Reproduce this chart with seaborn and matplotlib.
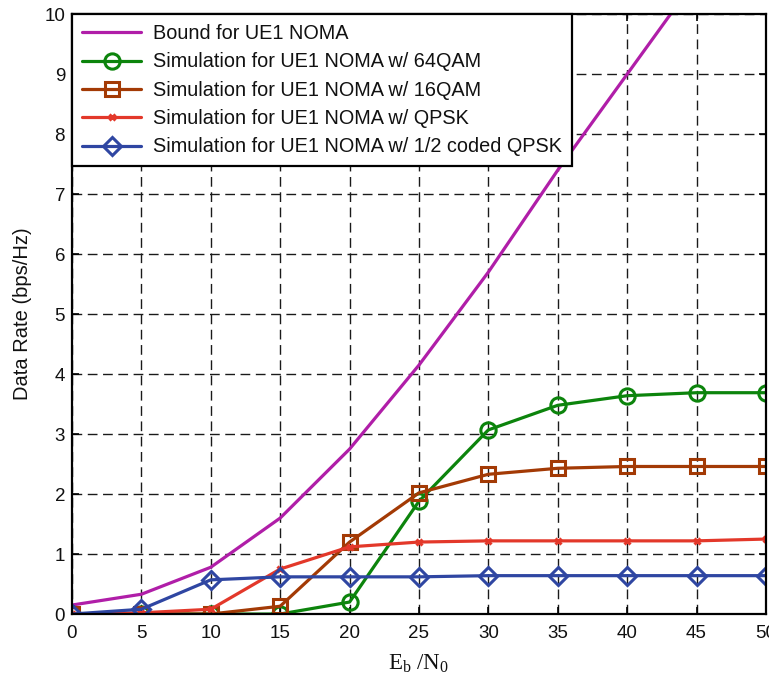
import numpy as np
import pandas as pd
import matplotlib
matplotlib.use("Agg")
import matplotlib.pyplot as plt
import seaborn as sns

ebn0 = [0, 5, 10, 15, 20, 25, 30, 35, 40, 45, 50]
bound = [0.15, 0.33, 0.78, 1.6, 2.75, 4.15, 5.7, 7.4, 9.0, 10.6, 12.2]
qam64 = [0, 0, 0, 0, 0.2, 1.88, 3.07, 3.48, 3.64, 3.69, 3.69]
qam16 = [0, 0, 0, 0.13, 1.2, 2.02, 2.33, 2.43, 2.46, 2.46, 2.46]
qpsk = [0, 0.02, 0.08, 0.75, 1.12, 1.2, 1.22, 1.22, 1.22, 1.22, 1.25]
coded_qpsk = [0, 0.08, 0.57, 0.62, 0.62, 0.62, 0.64, 0.64, 0.64, 0.64, 0.64]

labels = ["Bound for UE1 NOMA",
          "Simulation for UE1 NOMA w/ 64QAM",
          "Simulation for UE1 NOMA w/ 16QAM",
          "Simulation for UE1 NOMA w/ QPSK",
          "Simulation for UE1 NOMA w/ 1/2 coded QPSK"]
series = [bound, qam64, qam16, qpsk, coded_qpsk]
colors = ["#b01ea8", "#0c840c", "#a33a05", "#e3382a", "#2f46a2"]
markers = [None, "o", "s", "x", "D"]
msizes = [0, 11, 10.5, 5, 9.5]

sns.set_style("ticks")
plt.rcParams["font.family"] = ["Liberation Sans", "DejaVu Sans"]

fig = plt.figure(figsize=(7.69, 6.77), dpi=100)
ax = fig.add_axes([0.0936, 0.093, 0.9024, 0.886])

for lab, ys, c, m, ms in zip(labels, series, colors, markers, msizes):
    df = pd.DataFrame({"x": ebn0, "y": ys})
    kw = dict(color=c, linewidth=2.3, label=lab)
    if m is not None:
        kw.update(marker=m, markersize=ms, markerfacecolor="none",
                  markeredgecolor=c, markeredgewidth=2.2)
    sns.lineplot(data=df, x="x", y="y", ax=ax, **kw)

ax.set_xlim(0, 50)
ax.set_ylim(0, 10)
ax.set_xticks(range(0, 51, 5))
ax.set_yticks(range(0, 11))
ax.grid(True, color="#1a1a1a", linestyle=(0, (7, 4)), linewidth=1.0)
ax.tick_params(direction="in", labelsize=13.5, length=5, width=1.2, top=True, right=True,
               colors="black", labelcolor="#111111")
ax.tick_params(axis="x", pad=8)
ax.tick_params(axis="y", pad=5)
for sp in ax.spines.values():
    sp.set_linewidth(1.6)
    sp.set_color("black")
ax.set_ylabel("Data Rate (bps/Hz)", fontsize=14.5, color="#111111", labelpad=9)
ax.set_xlabel(r"E$_\mathregular{b}$ /N$_\mathregular{0}$", fontsize=16.5, color="#111111",
              family=["Liberation Serif", "DejaVu Serif"], labelpad=7)
leg = ax.legend(loc="upper left", fontsize=14.3, frameon=True, fancybox=False,
                edgecolor="black", framealpha=1, borderaxespad=0.0,
                handlelength=3.0, labelspacing=0.47, borderpad=0.5, handletextpad=0.6)
leg.get_frame().set_linewidth(1.6)
for t in leg.get_texts():
    t.set_color("#111111")

fig.savefig("out.png", dpi=100)
